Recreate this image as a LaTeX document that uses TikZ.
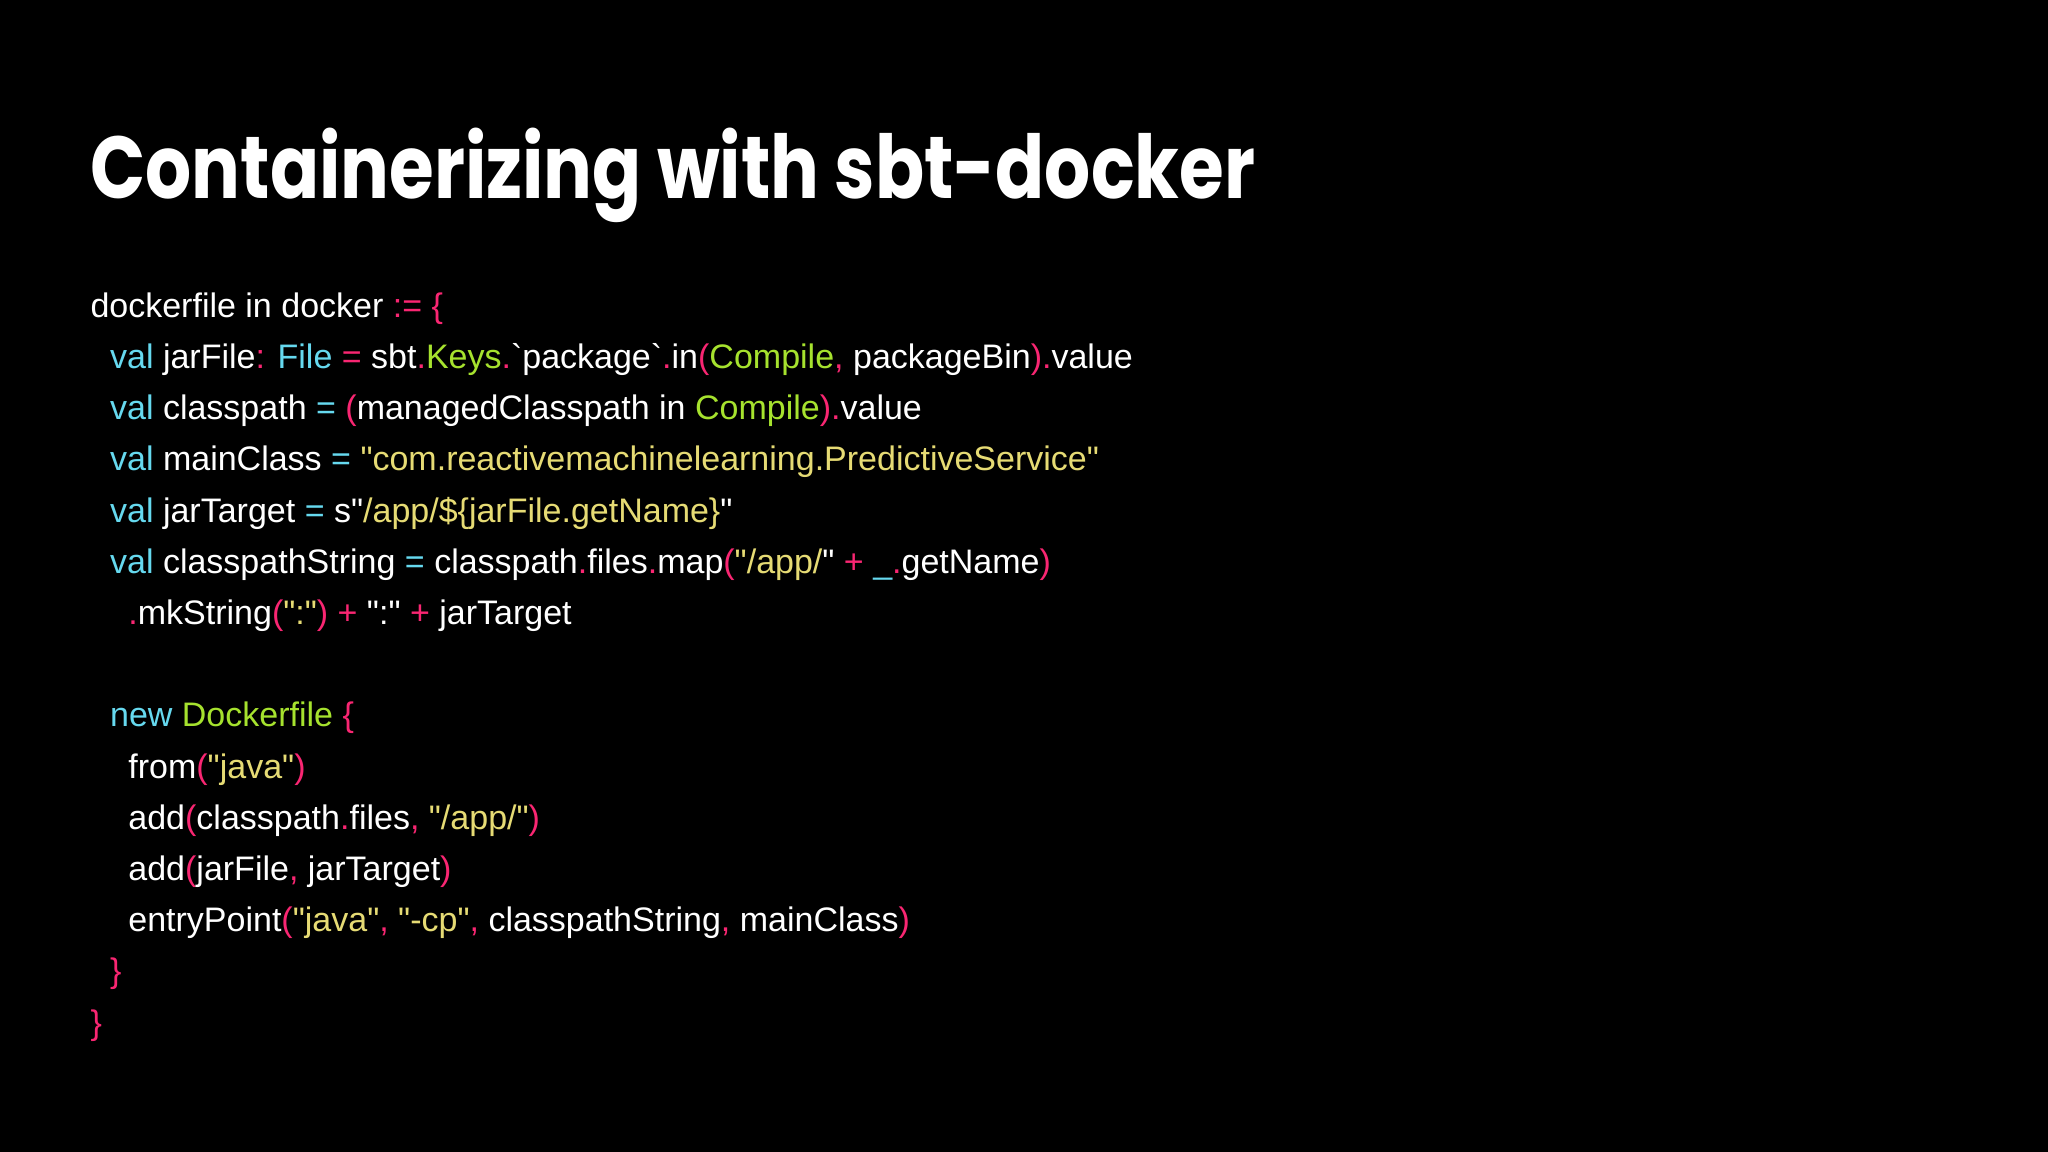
\documentclass[tikz,border=0pt]{standalone}
\usepackage{fontspec}
\newfontfamily\code{Liberation Sans}
\newfontfamily\ttl{Poppins}[FakeStretch=0.823]
\definecolor{cpink}{HTML}{F92672}
\definecolor{ccyan}{HTML}{66D9EF}
\definecolor{cgreen}{HTML}{A6E22E}
\definecolor{cyell}{HTML}{E6DB74}
\newcommand\cpk[1]{\textcolor{cpink}{#1}}
\newcommand\ccy[1]{\textcolor{ccyan}{#1}}
\newcommand\cgr[1]{\textcolor{cgreen}{#1}}
\newcommand\cyl[1]{\textcolor{cyell}{#1}}
\begin{document}
\begin{tikzpicture}[x=0.653pt,y=-0.653pt,
  ln/.style={anchor=base west,inner sep=0pt,text=white,font=\code\fontsize{17pt}{20pt}\selectfont}]
\fill[black] (0,0) rectangle (1568,882);
\useasboundingbox (0,0) rectangle (1568,882);
\node[anchor=base west,inner sep=0pt,text=white,font=\ttl\bfseries\fontsize{44pt}{50pt}\selectfont] (title) at (69,152) {Containerizing with sbt-docker};
\node[ln] (l1) at (69,243) {dockerfile in docker \cpk{:= \{}};
\node[ln] (l2) at (84,282.2) {\ccy{val} jarFile\cpk{:} \ccy{File} \cpk{=} sbt\cpk{.}\cgr{Keys}\cpk{.}`package`\cpk{.}in\cpk{(}\cgr{Compile}\cpk{,} packageBin\cpk{).}value};
\node[ln] (l3) at (84,321.4) {\ccy{val} classpath \ccy{=} \cpk{(}managedClasspath in \cgr{Compile}\cpk{).}value};
\node[ln] (l4) at (84,360.6) {\ccy{val} mainClass \ccy{=} \cyl{"com.reactivemachinelearning.PredictiveService"}};
\node[ln] (l5) at (84,399.8) {\ccy{val} jarTarget \ccy{=} s"\cyl{/app/\$\{jarFile.getName\}}"};
\node[ln] (l6) at (84,439) {\ccy{val} classpathString \ccy{=} classpath\cpk{.}files\cpk{.}map\cpk{(}\cyl{"/app/}" \cpk{+} \ccy{\_}\cpk{.}getName\cpk{)}};
\node[ln] (l7) at (98,478.2) {\cpk{.}mkString\cpk{(}\cyl{":"}\cpk{)} \cpk{+} ":" \cpk{+} jarTarget};
\node[ln] (l9) at (84,556.6) {\ccy{new} \cgr{Dockerfile} \cpk{\{}};
\node[ln] (l10) at (98,595.8) {from\cpk{(}\cyl{"java"}\cpk{)}};
\node[ln] (l11) at (98,635) {add\cpk{(}classpath\cpk{.}files\cpk{,} \cyl{"/app/"}\cpk{)}};
\node[ln] (l12) at (98,674.2) {add\cpk{(}jarFile\cpk{,} jarTarget\cpk{)}};
\node[ln] (l13) at (98,713.4) {entryPoint\cpk{(}\cyl{"java"}\cpk{,} \cyl{"-cp"}\cpk{,} classpathString\cpk{,} mainClass\cpk{)}};
\node[ln] (l14) at (84,752.6) {\cpk{\}}};
\node[ln] (l15) at (69,791.8) {\cpk{\}}};
\end{tikzpicture}
\end{document}
